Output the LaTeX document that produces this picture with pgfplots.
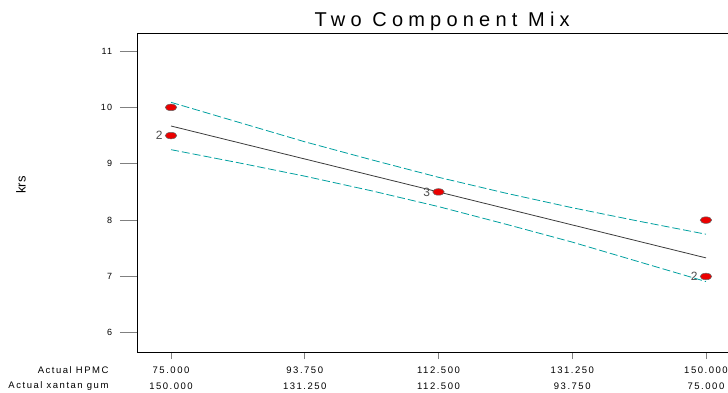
\documentclass[border=0pt]{standalone}
\usepackage{fontspec}
\setmainfont{Liberation Sans}
\usepackage{pgfplots}
\pgfplotsset{compat=1.18}
\definecolor{cidash}{RGB}{0,160,160}
\definecolor{fitline}{RGB}{60,60,60}
\definecolor{ptred}{RGB}{235,0,0}
\begin{document}
\begin{tikzpicture}
\useasboundingbox (-137pt,-40pt) rectangle (591pt,352pt);
\begin{axis}[
  scale only axis,
  width=592.5pt, height=319pt,
  xmin=70.23, xmax=153.3,
  ymin=5.66, ymax=11.32,
  axis line style={black, line width=0.9pt},
  xtick={75,93.75,112.5,131.25,150},
  xticklabels={{75.000\\150.000},{93.750\\131.250},{112.500\\112.500},{131.250\\93.750},{150.000\\75.000}},
  ytick={6,7,8,9,10,11},
  tick align=outside,
  xtick pos=bottom, ytick pos=left,
  xtick style={gray, line width=0.8pt, /pgfplots/major tick length=7pt},
  ytick style={gray, line width=0.8pt, /pgfplots/major tick length=17pt},
  /pgf/number format/assume math mode=true,
  yticklabel style={font=\fontsize{9}{10}\selectfont\addfontfeatures{LetterSpace=15}, anchor=east, xshift=-17pt},
  xticklabel style={font=\fontsize{9.5}{16}\selectfont\addfontfeatures{LetterSpace=16}, align=center, anchor=north, yshift=-7pt},
  title={Two Component Mix},
  title style={font=\fontsize{20}{24}\selectfont\addfontfeatures{LetterSpace=26}, at={(axis description cs:0.515,1)}, anchor=base, yshift=1pt},
  ylabel={krs},
  ylabel style={font=\fontsize{13}{15}\selectfont, at={(axis description cs:-0.196,0.524)}, anchor=center},
  clip=false,
]
\addplot[cidash, line width=0.8pt, dash pattern=on 8pt off 3pt] coordinates {
 (75,10.09) (84.375,9.74) (93.75,9.39) (103.125,9.07) (112.5,8.76) (121.875,8.48) (131.25,8.22) (140.625,7.98) (150,7.75)};
\addplot[cidash, line width=0.8pt, dash pattern=on 8pt off 3pt] coordinates {
 (75,9.25) (84.375,9.02) (93.75,8.78) (103.125,8.52) (112.5,8.24) (121.875,7.93) (131.25,7.61) (140.625,7.26) (150,6.91)};
\addplot[fitline, line width=0.8pt] coordinates {(75,9.67) (112.5,8.5) (150,7.33)};
\addplot[only marks, mark=*, mark size=3.3pt, mark options={xscale=1.75, fill=ptred, draw=black!60, line width=0.5pt}] coordinates {
 (75,10.0) (75,9.5) (112.5,8.5) (150,8.0) (150,7.0)};
\node[anchor=east, gray!60!black, font=\fontsize{12}{14}\selectfont, xshift=-5pt] at (axis cs:75,9.5) {2};
\node[anchor=east, gray!60!black, font=\fontsize{12}{14}\selectfont, xshift=-5pt] at (axis cs:112.5,8.5) {3};
\node[anchor=east, gray!60!black, font=\fontsize{12}{14}\selectfont, xshift=-5pt] at (axis cs:150,7.0) {2};
\end{axis}
\node[anchor=east, font=\fontsize{9.5}{10}\selectfont\addfontfeatures{LetterSpace=16}] at (-25pt,-18pt) {Actual HPMC};
\node[anchor=east, font=\fontsize{9.5}{10}\selectfont\addfontfeatures{LetterSpace=16}] at (-25pt,-34pt) {Actual xantan gum};
\end{tikzpicture}
\end{document}
